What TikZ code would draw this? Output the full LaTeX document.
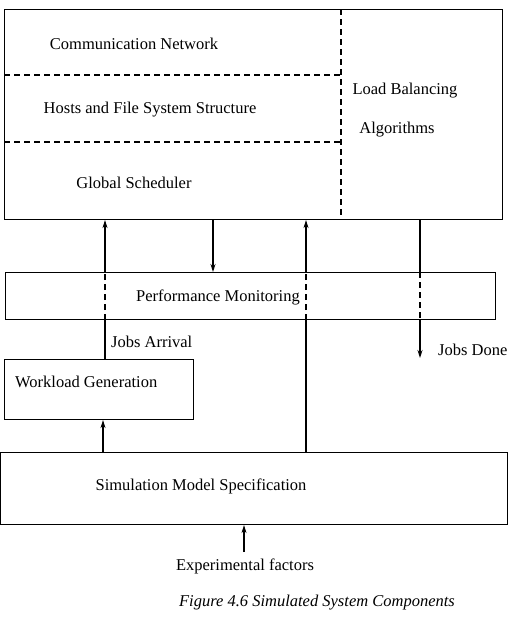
\documentclass[tikz,border=0pt]{standalone}
\usepackage{fontspec}
\setmainfont{Liberation Serif}
\usetikzlibrary{arrows.meta}
\begin{document}
\begin{tikzpicture}[x=1pt,y=-1pt,
  box/.style={draw,line width=1.1pt,anchor=north west,inner sep=0pt},
  lbl/.style={inner sep=0pt,font=\fontsize{16.5}{19}\selectfont},
  conn/.style={line width=1.1pt},
  arr/.style={line width=1.1pt,-{Stealth[length=8pt,width=5pt]}},
  dsh/.style={line width=1.1pt,dash pattern=on 6pt off 4pt}]
\useasboundingbox (0,0) rectangle (511,621);
% boxes
\node[box,minimum width=498pt,minimum height=210pt] (main) at (4,9) {};
\node[box,minimum width=490pt,minimum height=47pt] (pm) at (5,272) {};
\node[box,minimum width=189pt,minimum height=60pt] (wg) at (4,359) {};
\node[box,minimum width=507pt,minimum height=72pt] (sms) at (0,452) {};
% internal dashed partitions of main box
\coordinate (vtop) at (341,9);
\coordinate (vbot) at (341,219);
\draw[dsh] (vtop) -- (vbot);
\draw[dsh] (main.west |- 0,75) -- (341,75);
\draw[dsh] (main.west |- 0,142) -- (341,142);
% labels
\node[lbl] (cn) at (134,44) {Communication Network};
\node[lbl] (hf) at (150,110) {Hosts and File System Structure};
\node[lbl] (gs) at (134,183) {Global Scheduler};
\node[lbl] (lb) at (405,91) {Load Balancing};
\node[lbl] (al) at (397,130) {Algorithms};
\node[lbl] (pml) at (218,297) {Performance Monitoring};
\node[lbl,anchor=west] (ja) at (111,342) {Jobs Arrival};
\node[lbl,anchor=west] (jd) at (438,350) {Jobs Done};
\node[lbl,anchor=west] (wgl) at (15,382) {Workload Generation};
\node[lbl] (smsl) at (201,486) {Simulation Model Specification};
\node[lbl] (ef) at (245,566) {Experimental factors};
\node[lbl,font=\fontsize{16.5}{19}\selectfont\itshape] (cap) at (317,603) {Figure 4.6 Simulated System Components};
% connectors
% Jobs arrival: WG -> main, through PM
\draw[conn] (wg.north -| 105,0) -- (pm.south -| 105,0);
\draw[dsh] (pm.south -| 105,0) -- (pm.north -| 105,0);
\draw[arr] (pm.north -| 105,0) -- (main.south -| 105,0);
% main -> PM
\draw[arr] (main.south -| 213,0) -- (pm.north -| 213,0);
% SMS -> main through PM
\draw[conn] (sms.north -| 306,0) -- (pm.south -| 306,0);
\draw[dsh] (pm.south -| 306,0) -- (pm.north -| 306,0);
\draw[arr] (pm.north -| 306,0) -- (main.south -| 306,0);
% Jobs done
\coordinate (jdend) at (420,358);
\draw[conn] (main.south -| 420,0) -- (pm.north -| 420,0);
\draw[dsh] (pm.north -| 420,0) -- (pm.south -| 420,0);
\draw[arr] (pm.south -| 420,0) -- (jdend);
% SMS -> WG
\draw[arr] (sms.north -| 103,0) -- (wg.south -| 103,0);
% experimental factors -> SMS
\draw[arr] (ef.north -| 244,0) ++(0,-6) -- (sms.south -| 244,0);
\end{tikzpicture}
\end{document}
